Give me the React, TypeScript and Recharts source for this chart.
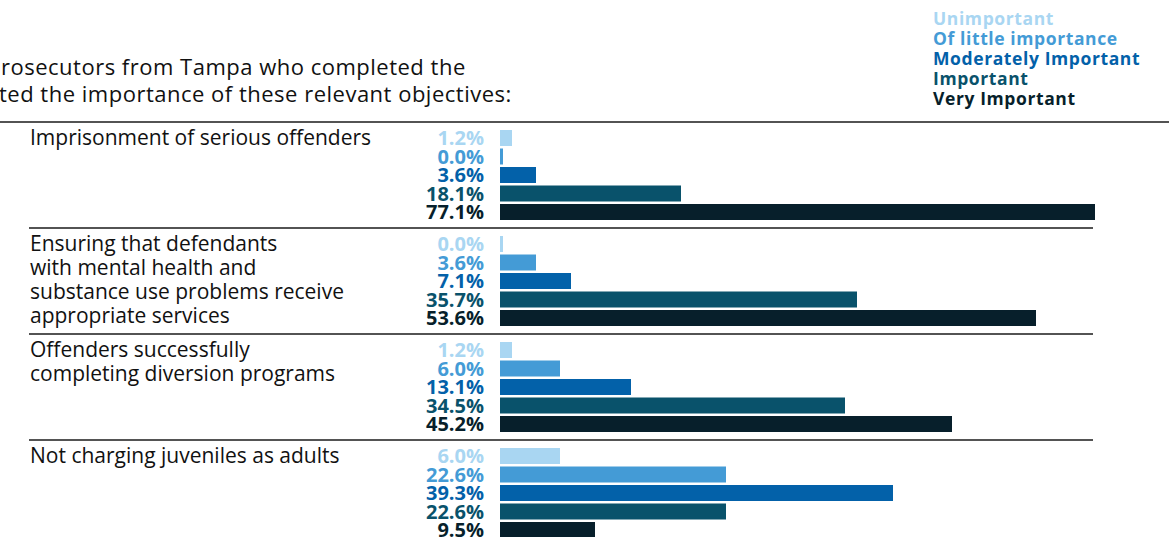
import React from 'react';
import { BarChart, Bar, XAxis, YAxis, LabelList, Legend } from 'recharts';

const categoryLines: string[][] = [
  ['Imprisonment of serious offenders'],
  ['Ensuring that defendants', 'with mental health and', 'substance use problems receive', 'appropriate services'],
  ['Offenders successfully', 'completing diversion programs'],
  ['Not charging juveniles as adults'],
];
const categories = categoryLines.map((l) => l.join(' '));

const unimportant = [1.2, 0.0, 1.2, 6.0];
const littleImportance = [0.0, 3.6, 6.0, 22.6];
const moderatelyImportant = [3.6, 7.1, 13.1, 39.3];
const important = [18.1, 35.7, 34.5, 22.6];
const veryImportant = [77.1, 53.6, 45.2, 9.5];

const seriesNames = ['Unimportant', 'Of little importance', 'Moderately Important', 'Important', 'Very Important'];
const seriesColors = ['#a9d6f2', '#449bd6', '#0361a9', '#09526b', '#071f2b'];
const seriesValues = [unimportant, littleImportance, moderatelyImportant, important, veryImportant];
const seriesKeys = ['s0', 's1', 's2', 's3', 's4'];

const titleLines = ['rosecutors from Tampa who completed the', 'ted the importance of these relevant objectives:'];

const data = categories.map((name, i) => {
  const row: Record<string, string | number> = { name };
  seriesKeys.forEach((k, s) => {
    row[k] = seriesValues[s][i];
  });
  return row;
});

const FONT = '"Open Sans", "Noto Sans", sans-serif';

const CategoryTick = (props: any) => {
  const { y, index } = props;
  const lines = categoryLines[index] || [];
  const half = 53;
  return (
    <g>
      {index === 0 && <line x1={0} x2={1169} y1={y - half} y2={y - half} stroke="#1a1a1a" strokeWidth={1.5} />}
      {index < categoryLines.length - 1 && (
        <line x1={29} x2={1093} y1={y + half} y2={y + half} stroke="#1a1a1a" strokeWidth={1.5} />
      )}
      {lines.map((t, i) => (
        <text key={i} x={30} y={y - 30 + i * 24} fontFamily={FONT} fontSize={21} fill="#111">
          {t}
        </text>
      ))}
    </g>
  );
};

const makeLabel = (color: string) => (props: any) => {
  const { y, height, value } = props;
  return (
    <text
      x={484}
      y={y + height / 2}
      dy="0.37em"
      textAnchor="end"
      fontFamily={FONT}
      fontWeight={700}
      fontSize={20}
      fill={color}
    >
      {Number(value).toFixed(1)}%
    </text>
  );
};

const LegendContent = () => (
  <div style={{ fontFamily: FONT, fontWeight: 700, fontSize: 17.5, lineHeight: '20px', letterSpacing: 0.6 }}>
    {seriesNames.map((n, i) => (
      <div key={n} style={{ color: seriesColors[i], whiteSpace: 'nowrap' }}>
        {n}
      </div>
    ))}
  </div>
);

export default function App() {
  return (
    <div
      style={{
        position: 'fixed',
        left: 0,
        top: 0,
        width: 1173,
        height: 537,
        overflow: 'hidden',
        background: '#fff',
      }}
    >
      <svg width={1173} height={120} style={{ position: 'absolute', left: 0, top: 0 }}>
        {titleLines.map((t, i) => (
          <text
            key={i}
            x={i === 0 ? 1 : -1}
            y={75 + i * 27}
            fontFamily={FONT}
            fontSize={22}
            letterSpacing={0.5}
            fill="#111"
          >
            {t}
          </text>
        ))}
      </svg>
      <div style={{ position: 'absolute', left: 0, top: 0 }}>
        <BarChart
          width={1173}
          height={546}
          data={data}
          layout="vertical"
          margin={{ top: 122, right: 78, bottom: 0, left: 0 }}
          barSize={16}
          barGap={2.5}
        >
          <XAxis type="number" hide domain={[0, 59.5]} allowDataOverflow />
          <YAxis
            type="category"
            dataKey="name"
            width={500}
            axisLine={false}
            tickLine={false}
            interval={0}
            tick={<CategoryTick />}
          />
          <Legend
            layout="horizontal"
            verticalAlign="middle"
            align="center"
            content={<LegendContent />}
            wrapperStyle={{ position: 'absolute', left: 933, top: 8, width: 240 }}
          />
          {seriesKeys.map((k, s) => (
            <Bar
              key={k}
              dataKey={k}
              name={seriesNames[s]}
              fill={seriesColors[s]}
              minPointSize={3}
              isAnimationActive={false}
            >
              <LabelList dataKey={k} content={makeLabel(seriesColors[s])} />
            </Bar>
          ))}
        </BarChart>
      </div>
    </div>
  );
}
